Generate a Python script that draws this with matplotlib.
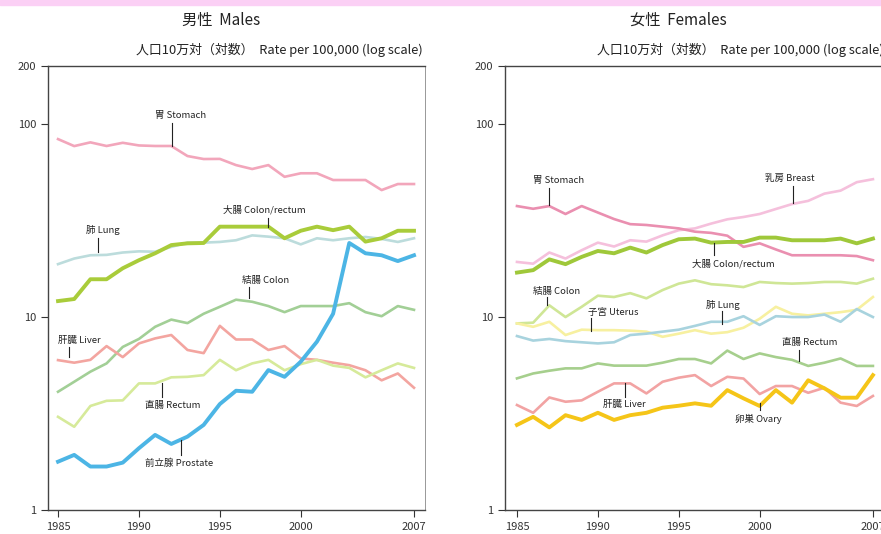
import numpy as np
import matplotlib
matplotlib.use("Agg")
import matplotlib.pyplot as plt
from matplotlib.patches import Rectangle

plt.rcParams['font.family'] = ['Noto Sans CJK JP', 'DejaVu Sans']

years = list(range(1985, 2008))

# males, rate per 100,000
m_stomach = [83.6, 76.9, 80.4, 77.0, 80.0, 77.5, 77.0, 77.0, 68.3, 65.9, 66.0, 61.3,
             58.5, 61.3, 53.3, 55.6, 55.6, 51.3, 51.3, 51.3, 45.5, 48.9, 48.9]
m_colorectum = [12.1, 12.4, 15.7, 15.7, 17.9, 19.7, 21.4, 23.6, 24.1, 24.2, 29.4, 29.4,
                29.4, 29.4, 25.6, 28.0, 29.4, 28.2, 29.4, 24.6, 25.6, 28.0, 28.0]
m_lung = [18.8, 20.1, 20.9, 21.0, 21.6, 21.9, 21.8, 23.1, 24.3, 24.3, 24.5, 25.0,
          26.5, 26.1, 25.6, 23.8, 25.6, 25.0, 25.6, 26.0, 25.4, 24.5, 25.6]
m_colon = [4.1, 4.62, 5.21, 5.75, 7.0, 7.7, 8.9, 9.7, 9.3, 10.4, 11.3, 12.3,
           12.0, 11.4, 10.6, 11.4, 11.4, 11.4, 11.8, 10.6, 10.1, 11.4, 10.9]
m_liver = [5.98, 5.8, 6.0, 7.07, 6.2, 7.3, 7.75, 8.07, 6.75, 6.5, 9.0, 7.65,
           7.65, 6.75, 7.07, 6.1, 6.0, 5.8, 5.63, 5.3, 4.7, 5.1, 4.3]
m_rectum = [3.04, 2.7, 3.46, 3.68, 3.7, 4.53, 4.53, 4.87, 4.9, 5.0, 6.0, 5.3,
            5.75, 6.0, 5.3, 5.7, 6.0, 5.6, 5.45, 4.87, 5.3, 5.75, 5.45]
m_prostate = [1.78, 1.93, 1.68, 1.68, 1.76, 2.09, 2.45, 2.2, 2.4, 2.76, 3.54, 4.15,
              4.1, 5.31, 4.9, 5.87, 7.45, 10.4, 24.2, 21.4, 20.9, 19.5, 20.9]

# females, rate per 100,000
f_stomach = [37.6, 36.4, 37.6, 34.2, 37.6, 34.8, 32.2, 30.3, 30.0, 29.4, 28.8, 27.7,
             27.3, 26.4, 23.1, 24.1, 22.4, 20.9, 20.9, 20.9, 20.9, 20.7, 19.7]
f_breast = [19.3, 18.9, 21.6, 20.1, 22.2, 24.3, 23.2, 25.0, 24.6, 26.5, 28.2, 28.8,
            30.5, 32.1, 33.0, 34.2, 36.3, 38.5, 40.0, 43.6, 45.2, 50.0, 51.8]
f_colorectum = [17.0, 17.5, 19.9, 18.8, 20.5, 22.0, 21.4, 22.9, 21.6, 23.6, 25.3, 25.5,
                24.3, 24.5, 24.5, 25.8, 25.8, 25.0, 25.0, 25.0, 25.5, 24.1, 25.5]
f_colon = [9.27, 9.35, 11.5, 10.0, 11.3, 12.9, 12.7, 13.3, 12.5, 13.8, 14.9, 15.5,
           14.8, 14.6, 14.3, 15.2, 15.0, 14.9, 15.0, 15.2, 15.2, 14.9, 15.8]
f_uterus = [9.27, 8.9, 9.45, 8.07, 8.6, 8.55, 8.55, 8.5, 8.4, 7.9, 8.2, 8.55,
            8.2, 8.35, 8.8, 9.8, 11.3, 10.4, 10.2, 10.4, 10.6, 10.9, 12.7]
f_lung = [7.97, 7.55, 7.7, 7.5, 7.4, 7.3, 7.4, 8.07, 8.2, 8.4, 8.6, 9.0,
          9.45, 9.45, 10.1, 9.1, 10.1, 10.0, 10.0, 10.3, 9.45, 11.0, 10.0]
f_rectum = [4.81, 5.1, 5.27, 5.42, 5.42, 5.75, 5.6, 5.6, 5.6, 5.8, 6.06, 6.06,
            5.75, 6.7, 6.06, 6.48, 6.2, 6.0, 5.58, 5.8, 6.1, 5.58, 5.58]
f_liver = [3.5, 3.19, 3.83, 3.64, 3.7, 4.1, 4.53, 4.53, 4.02, 4.62, 4.85, 5.0,
           4.39, 4.9, 4.8, 3.99, 4.39, 4.39, 4.05, 4.3, 3.6, 3.46, 3.9]
f_ovary = [2.76, 3.04, 2.68, 3.1, 2.93, 3.19, 2.93, 3.1, 3.19, 3.39, 3.47, 3.57,
           3.47, 4.18, 3.79, 3.46, 4.18, 3.6, 4.7, 4.27, 3.82, 3.82, 5.0]

# (data, colour, width, label, text x, text y, leader x, leader y0, leader y1)
MALE = [
    (m_stomach, "#f2a6bb", 1.9, "胃 Stomach", 1991.0, 111, 1992.05, 101, 77),
    (m_lung, "#bcdcdc", 1.9, "肺 Lung", 1986.7, 28.2, 1987.5, 25.7, 21.7),
    (m_colon, "#a2cf96", 1.9, "結腸 Colon", 1996.4, 15.5, 1996.8, 14.3, 12.5),
    (m_liver, "#f3a5a0", 1.9, "肝臓 Liver", 1985.0, 7.6, 1985.7, 7.0, 6.2),
    (m_rectum, "#d6ea9a", 1.9, "直腸 Rectum", 1990.4, 3.5, 1991.4, 4.55, 3.85),
    (m_colorectum, "#a9cc3a", 2.8, "大腸 Colon/rectum", 1995.2, 35.8, 1998.0, 32.5, 29.3),
    (m_prostate, "#4cb5e5", 2.8, "前立腺 Prostate", 1990.4, 1.75, 1992.6, 2.3, 1.93),
]
FEMALE = [
    (f_breast, "#f5c0dc", 1.9, "乳房 Breast", 2000.3, 52.3, 2002.05, 47.6, 38.9),
    (f_stomach, "#ea8fb0", 1.9, "胃 Stomach", 1986.0, 51.3, 1987.0, 46.5, 38.1),
    (f_colon, "#cfe696", 1.9, "結腸 Colon", 1986.0, 13.5, 1986.85, 12.7, 11.5),
    (f_uterus, "#f7f0a0", 1.9, "子宮 Uterus", 1989.4, 10.5, 1989.6, 9.85, 8.45),
    (f_lung, "#a8d3de", 1.9, "肺 Lung", 1996.7, 11.5, 1997.7, 10.7, 9.25),
    (f_rectum, "#a6cf8d", 1.9, "直腸 Rectum", 2001.4, 7.4, 2002.4, 6.75, 5.9),
    (f_liver, "#f2a3a3", 1.9, "肝臓 Liver", 1990.3, 3.54, 1991.7, 4.55, 3.85),
    (f_colorectum, "#9fc83a", 2.8, "大腸 Colon/rectum", 1995.8, 18.8, 1997.2, 24.2, 20.9),
    (f_ovary, "#f5c518", 2.8, "卵巣 Ovary", 1998.5, 2.96, 2000.0, 3.58, 3.3),
]

fig = plt.figure(figsize=(8.81, 5.34), dpi=100)
fig.patches.append(Rectangle((0, 1 - 5 / 534), 1, 5 / 534, transform=fig.transFigure,
                             color="#fbd0f5", zorder=0))

ax_m = fig.add_axes([48 / 881, 24 / 534, 377 / 881, 444 / 534])
ax_f = fig.add_axes([505 / 881, 24 / 534, 377 / 881, 444 / 534])

for ax, series, xlim in [(ax_m, MALE, (1984.38, 2007.68)), (ax_f, FEMALE, (1984.26, 2007.56))]:
    for data, col, lw, lab, tx, ty, lx, ly0, ly1 in series:
        ax.plot(years, data, color=col, lw=lw, solid_joinstyle="round")
        ax.text(tx, ty, lab, fontsize=6.8, color="#222222", va="center", ha="left")
        ax.plot([lx, lx], [ly0, ly1], color="#222222", lw=0.8)
    ax.set_yscale("log")
    ax.set_ylim(1, 200)
    ax.set_xlim(*xlim)
    ax.set_yticks([1, 10, 100, 200])
    ax.set_yticklabels(["1", "10", "100", "200"])
    ax.yaxis.set_minor_locator(matplotlib.ticker.NullLocator())
    ax.set_xticks([1985, 1990, 1995, 2000, 2007])
    ax.tick_params(labelsize=8, colors="#333333", length=5, width=0.8)
    for s in ["left", "bottom", "top"]:
        ax.spines[s].set_color("#444444")
        ax.spines[s].set_linewidth(1.0)
    ax.spines["right"].set_color("#888888")
    ax.spines["right"].set_linewidth(0.6)

fig.text(221 / 881, 1 - 20 / 534, "男性  Males", fontsize=11, ha="center", va="center", color="#222222")
fig.text(678 / 881, 1 - 20 / 534, "女性  Females", fontsize=11, ha="center", va="center", color="#222222")
fig.text(423 / 881, 1 - 50 / 534, "人口10万対（対数）  Rate per 100,000 (log scale)", fontsize=9.3,
         ha="right", va="center", color="#222222")
fig.text(884 / 881, 1 - 50 / 534, "人口10万対（対数）  Rate per 100,000 (log scale)", fontsize=9.3,
         ha="right", va="center", color="#222222")

fig.savefig("out.png", dpi=100)
